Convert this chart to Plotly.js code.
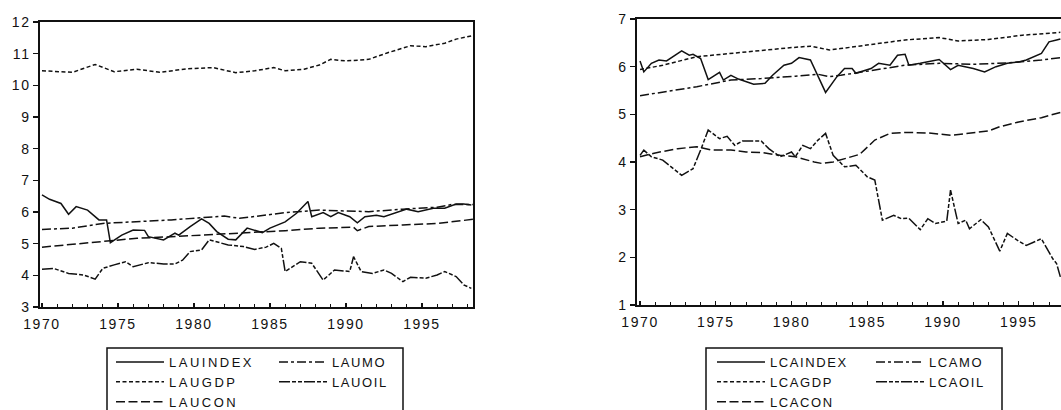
<!DOCTYPE html>
<html>
<head>
<meta charset="utf-8">
<script src="https://cdn.plot.ly/plotly-3.0.1.min.js"></script>
<style>
html,body{margin:0;padding:0;overflow:hidden;background:#fff;width:1061px;height:410px;}
#chart{width:1075px;height:410px;}
svg text{letter-spacing:1.6px;}
svg .legendtext{letter-spacing:2.5px;}
</style>
</head>
<body>
<div id="chart"></div>
<script>
// ---- Australia (left panel) ----
const auIndexT = [1970.0,1970.5,1971.25,1971.75,1972.25,1973.0,1973.75,1974.25,1974.5,1975.25,1976.0,1976.75,1977.0,1978.0,1978.75,1979.0,1979.75,1980.5,1981.0,1981.5,1982.25,1982.75,1983.5,1984.0,1984.5,1985.0,1986.0,1986.75,1987.5,1987.75,1988.5,1989.0,1989.5,1990.25,1990.75,1991.25,1992.0,1992.5,1993.25,1994.0,1994.75,1995.75,1996.5,1997.25,1997.75,1998.25];
const auIndex  = [6.54,6.40,6.27,5.93,6.17,6.06,5.75,5.75,5.03,5.27,5.43,5.42,5.22,5.12,5.33,5.27,5.54,5.78,5.64,5.38,5.14,5.12,5.49,5.43,5.35,5.49,5.69,5.96,6.33,5.85,5.98,5.85,5.98,5.85,5.66,5.85,5.90,5.85,5.98,6.09,6.01,6.12,6.12,6.25,6.25,6.22];
const auMoT = [1970,1972,1974,1976.25,1978.5,1980.5,1982,1983,1984,1986,1988.25,1990.5,1991.5,1993.75,1996,1997,1998.4];
const auMo  = [5.45,5.49,5.64,5.69,5.75,5.82,5.87,5.80,5.86,5.98,6.06,6.04,6.01,6.09,6.15,6.24,6.24];
const auGdpT = [1970,1972,1973.5,1974.75,1976.25,1977.75,1979.5,1981.25,1982.75,1984,1985.25,1986,1987.25,1988.25,1989,1990,1991.5,1992.75,1994.25,1995.25,1996.5,1997.25,1998.25];
const auGdp  = [10.46,10.41,10.66,10.43,10.51,10.41,10.52,10.56,10.40,10.46,10.56,10.46,10.51,10.64,10.82,10.77,10.82,11.03,11.25,11.22,11.33,11.46,11.56];
const auOilT = [1970,1970.75,1971.75,1972.75,1973.5,1974.0,1974.75,1975.5,1976.0,1977.0,1978.0,1978.75,1979.25,1979.75,1980.5,1981.0,1982.25,1983.25,1984.0,1984.75,1985.25,1985.75,1986.0,1987.0,1987.75,1988.5,1989.25,1990.25,1990.5,1991.0,1991.75,1992.5,1993.0,1993.75,1994.25,1995.25,1996.0,1996.5,1997.25,1997.75,1998.25];
const auOil  = [4.19,4.22,4.06,4.01,3.88,4.22,4.33,4.43,4.27,4.40,4.36,4.36,4.48,4.75,4.80,5.12,4.96,4.91,4.82,4.89,5.01,4.85,4.12,4.43,4.38,3.85,4.17,4.12,4.59,4.12,4.06,4.17,4.06,3.80,3.94,3.91,4.01,4.12,3.96,3.70,3.59];
const auConT = [1970,1974,1976.25,1978.5,1980.5,1982.75,1984,1986,1988.25,1990.5,1990.75,1991.5,1993.75,1996,1998.4];
const auCon  = [4.89,5.06,5.17,5.22,5.27,5.33,5.35,5.41,5.49,5.52,5.41,5.54,5.59,5.64,5.77];

// ---- Canada (right panel) ----
const caIndexT = [1970,1970.25,1970.75,1971.25,1971.75,1972.25,1972.75,1973.25,1973.5,1974.0,1974.5,1975.25,1975.5,1976.0,1976.5,1977.5,1978.25,1978.75,1979.5,1980.0,1980.5,1981.25,1981.75,1982.25,1983.0,1983.5,1984.0,1984.25,1985.25,1985.75,1986.5,1987.0,1987.5,1987.75,1988.5,1989.0,1989.75,1990.5,1991.0,1992.0,1992.75,1993.5,1994.25,1995.0,1995.5,1996.5,1997.0,1997.5,1997.75];
const caIndex  = [6.12,5.89,6.07,6.14,6.12,6.23,6.33,6.24,6.26,6.17,5.73,5.88,5.72,5.82,5.74,5.63,5.65,5.82,6.03,6.07,6.19,6.14,5.79,5.46,5.79,5.96,5.96,5.86,5.96,6.07,6.03,6.24,6.26,6.03,6.07,6.10,6.15,5.94,6.03,5.96,5.89,6.00,6.07,6.10,6.14,6.28,6.52,6.56,6.58];
const caGdpT = [1970,1971.5,1973.75,1976,1978,1980,1981.25,1982.5,1983.25,1985.5,1987.5,1989.75,1991,1993,1995.25,1997.75];
const caGdp  = [5.94,6.03,6.21,6.28,6.35,6.40,6.43,6.35,6.38,6.47,6.56,6.61,6.54,6.57,6.66,6.72];
const caMoT = [1970,1971.5,1973.75,1976,1978,1980.25,1981.75,1982.5,1983.25,1985.5,1987.5,1989.75,1992,1994.25,1996.5,1997.75];
const caMo  = [5.39,5.46,5.58,5.72,5.75,5.80,5.84,5.79,5.82,5.93,6.03,6.07,6.05,6.08,6.14,6.19];
const caConT = [1970,1971,1972.5,1973.75,1974.75,1976,1977,1978,1979.25,1980.25,1981.5,1982,1982.75,1983.5,1984.5,1985.5,1986.5,1987.5,1989,1990.5,1991.75,1993,1993.75,1995,1996.5,1997.75];
const caCon  = [4.11,4.19,4.28,4.32,4.25,4.25,4.21,4.20,4.14,4.11,4.00,3.97,4.00,4.07,4.16,4.46,4.60,4.62,4.61,4.56,4.60,4.65,4.74,4.84,4.93,5.04];
const caOilT = [1970,1970.25,1970.75,1971.5,1972.75,1973.5,1974.0,1974.5,1975.25,1975.75,1976.25,1976.75,1978.0,1978.5,1979.25,1980.0,1980.25,1980.75,1981.25,1981.75,1982.25,1982.75,1983.5,1984.25,1985.0,1985.5,1986.0,1986.75,1987.25,1987.75,1988.5,1989.0,1989.5,1990.25,1990.5,1991.0,1991.5,1991.75,1992.5,1993.0,1993.75,1994.25,1995.0,1995.5,1996.5,1997.25,1997.5,1997.75];
const caOil  = [4.14,4.25,4.11,4.04,3.72,3.86,4.25,4.67,4.49,4.54,4.35,4.44,4.44,4.28,4.11,4.21,4.11,4.35,4.28,4.46,4.60,4.14,3.90,3.93,3.69,3.62,2.78,2.88,2.81,2.82,2.58,2.81,2.71,2.76,3.41,2.71,2.78,2.60,2.79,2.64,2.13,2.50,2.34,2.25,2.39,1.97,1.87,1.59];

const tickYears = [1970,1975,1980,1985,1990,1995];
const tickLabels = ['1970','1975','1980','1985','1990','1995'];

const DASH = {
  INDEX: 'solid',
  GDP: '4px,2.5px',
  MO: '9px,3px,3px,3px',
  OIL: '11px,2px,4px,2px,4px,2px',
  CON: '9px,3.5px'
};

function tr(name, x, y, dash, xa, ya, leg){
  return {type:'scatter', mode:'lines', name:name, x:x, y:y,
    xaxis:xa, yaxis:ya, legend:leg,
    line:{color:'#111', width:1.5, dash:dash}};
}

const W = 1075, H = 410;
const data = [
  tr('LAUINDEX', auIndexT, auIndex, DASH.INDEX, 'x', 'y', 'legend'),
  tr('LAUGDP',   auGdpT,   auGdp,   DASH.GDP,   'x', 'y', 'legend'),
  tr('LAUCON',   auConT,   auCon,   DASH.CON,   'x', 'y', 'legend'),
  tr('LAUMO',    auMoT,    auMo,    DASH.MO,    'x', 'y', 'legend2'),
  tr('LAUOIL',   auOilT,   auOil,   DASH.OIL,   'x', 'y', 'legend2'),
  tr('LCAINDEX', caIndexT, caIndex, DASH.INDEX, 'x2', 'y2', 'legend3'),
  tr('LCAGDP',   caGdpT,   caGdp,   DASH.GDP,   'x2', 'y2', 'legend3'),
  tr('LCACON',   caConT,   caCon,   DASH.CON,   'x2', 'y2', 'legend3'),
  tr('LCAMO',    caMoT,    caMo,    DASH.MO,    'x2', 'y2', 'legend4'),
  tr('LCAOIL',   caOilT,   caOil,   DASH.OIL,   'x2', 'y2', 'legend4')
];

const font = {family:'Liberation Sans, Arial, sans-serif', size:14, color:'#111'};
function xax(d0, d1, r, anchor){
  return {domain:[d0/W, d1/W], range:r, anchor:anchor,
    showline:true, linecolor:'#111', linewidth:1.6, mirror:true,
    showgrid:false, zeroline:false,
    tickmode:'array', tickvals:tickYears, ticktext:tickLabels,
    ticks:'inside', ticklen:4, tickwidth:1.2, tickcolor:'#111',
    minor:{dtick:1, tick0:1970, ticks:'inside', ticklen:3, tickwidth:1, tickcolor:'#111', showgrid:false},
    tickfont:font, ticklabelstandoff:4, fixedrange:true};
}
function yax(top, bottom, r, dt, anchor){
  return {domain:[(H-bottom)/H, (H-top)/H], range:r, anchor:anchor,
    showline:true, linecolor:'#111', linewidth:1.6, mirror:true,
    showgrid:false, zeroline:false, dtick:dt, tick0:0,
    ticks:'outside', ticklen:5, tickwidth:1.2, tickcolor:'#111',
    tickfont:font, fixedrange:true};
}
function leg(x0){
  return {x:x0/W, y:(H-347)/H, xanchor:'left', yanchor:'top',
    orientation:'v', itemwidth:48, borderwidth:0, bgcolor:'rgba(0,0,0,0)',
    font:{family:'Liberation Sans, Arial, sans-serif', size:13, color:'#111'},
    traceorder:'normal', tracegroupgap:0};
}
function box(x0, x1){
  return {type:'rect', xref:'paper', yref:'paper', x0:x0/W, x1:x1/W,
    y0:-0.05, y1:(H-348)/H, line:{color:'#111', width:1.5}, fillcolor:'#fff', layer:'above'};
}

const layout = {
  width:W, height:H, margin:{l:0,r:0,t:0,b:0, autoexpand:false},
  paper_bgcolor:'#fff', plot_bgcolor:'#fff',
  showlegend:true,
  xaxis: xax(40, 473, [1969.87, 1998.36], 'y'),
  yaxis: yax(22, 307, [3, 12], 1, 'x'),
  xaxis2: xax(637, 1069.6, [1969.8, 1998.36], 'y2'),
  yaxis2: yax(19, 305, [1, 7], 1, 'x2'),
  legend: leg(111),
  legend2: leg(274),
  legend3: leg(712),
  legend4: leg(871),
  shapes: [box(107, 403), box(706, 1002)]
};

Plotly.newPlot('chart', data, layout, {staticPlot:true, displayModeBar:false});
</script>
</body>
</html>
